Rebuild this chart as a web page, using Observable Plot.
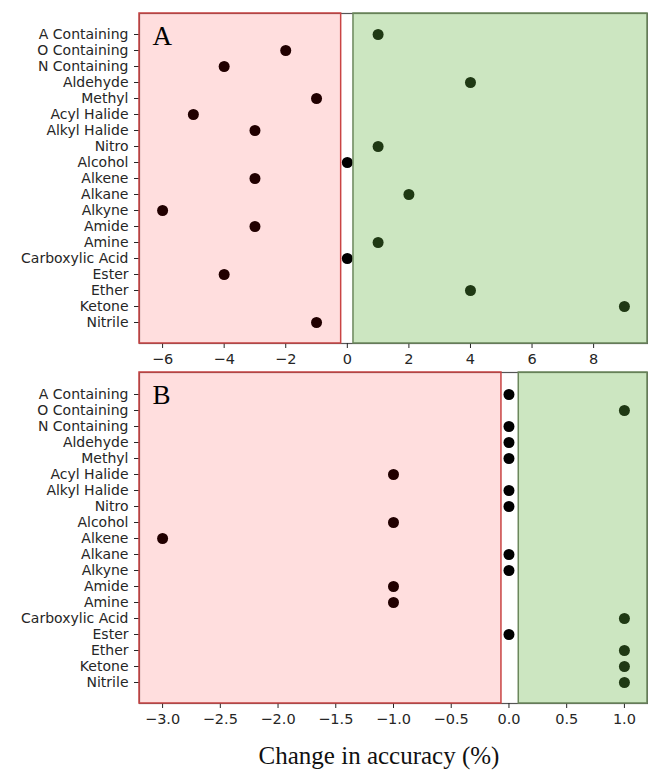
<!DOCTYPE html>
<html>
<head>
<meta charset="utf-8">
<script src="https://cdn.jsdelivr.net/npm/d3@7"></script>
<script src="https://cdn.jsdelivr.net/npm/@observablehq/plot@0.6"></script>
<style>
  body { margin: 0; background: white; }
  #wrap { position: relative; width: 648px; height: 774px; background: white; }
  #wrap svg { position: absolute; left: 0; overflow: visible; }
  #xlabel { position: absolute; left: 0; width: 758px; top: 741px; text-align: center; z-index: 5;
            font-family: "Liberation Serif", "DejaVu Serif", serif; font-size: 25px; line-height: 30px; color: #111; }
</style>
</head>
<body>
<div id="wrap"></div>
<script>
const categories = ["A Containing", "O Containing", "N Containing", "Aldehyde", "Methyl",
  "Acyl Halide", "Alkyl Halide", "Nitro", "Alcohol", "Alkene", "Alkane", "Alkyne",
  "Amide", "Amine", "Carboxylic Acid", "Ester", "Ether", "Ketone", "Nitrile"];
const valuesA = [1, -2, -4, 4, -1, -5, -3, 1, 0, -3, 2, -6, -3, 1, 0, -4, 4, 9, -1];
const valuesB = [0, 1, 0, 0, 0, -1, 0, 0, -1, -3, 0, 0, -1, -1, 1, 0, 1, 1, 1];
const ticksA = [-6, -4, -2, 0, 2, 4, 6, 8];
const ticksB = [-3.0, -2.5, -2.0, -1.5, -1.0, -0.5, 0.0, 0.5, 1.0];
const domainA = [-6.75, 9.75];
const domainB = [-3.2, 1.2];
const gapA = [-0.2, 0.2];
const gapB = [-0.065, 0.085];
const xTitle = "Change in accuracy (%)";

const minus = s => String(s).replace("-", "\u2212");

function panel(values, domain, ticks, gap, fmt, letter, opts) {
  const data = categories.map((c, i) => ({cat: c, v: values[i]}));
  return Plot.plot({
    width: 648,
    height: opts.height,
    marginLeft: 139,
    marginRight: 1,
    marginTop: opts.marginTop,
    marginBottom: opts.marginBottom,
    style: {fontFamily: "DejaVu Sans", fontSize: "14px", color: "#262626", background: "white"},
    x: {domain, ticks, tickFormat: fmt, label: null},
    y: {domain: categories, type: "point", padding: 0.9, label: null},
    marks: [
      Plot.frame({stroke: "#555", strokeWidth: 1.2}),
      Plot.axisX({ticks, tickFormat: fmt, tickSize: 5, tickPadding: 5, label: null, fontSize: 14.5}),
      Plot.axisY({tickSize: 5, tickPadding: 6, label: null, fontSize: 14}),
      Plot.dot(data, {x: "v", y: "cat", r: 5.5, fill: "black", stroke: "none"}),
      Plot.rect([{a: domain[0], b: gap[0]}], {x1: "a", x2: "b", fill: "red", fillOpacity: 0.13, stroke: "#c94444", strokeWidth: 1.5}),
      Plot.rect([{a: gap[1], b: domain[1]}], {x1: "a", x2: "b", fill: "rgb(95,178,62)", fillOpacity: 0.32, stroke: "#6b875c", strokeWidth: 1.5}),
      Plot.text([letter], {text: d => d, frameAnchor: "top-left", dx: 13, dy: 12, lineAnchor: "top", textAnchor: "start",
        fontFamily: "Liberation Serif", fontSize: 27, fill: "black"})
    ]
  });
}

const wrap = document.getElementById("wrap");
const pA = panel(valuesA, domainA, ticksA, gapA, d => minus(d), "A", {height: 370, marginTop: 13, marginBottom: 27});
pA.style.top = "0px";
const pB = panel(valuesB, domainB, ticksB, gapB, d => minus(d.toFixed(1)), "B", {height: 404, marginTop: 2, marginBottom: 71});
pB.style.top = "370px";
wrap.appendChild(pA);
wrap.appendChild(pB);
const lab = document.createElement("div");
lab.id = "xlabel";
lab.textContent = xTitle;
wrap.appendChild(lab);
</script>
</body>
</html>
